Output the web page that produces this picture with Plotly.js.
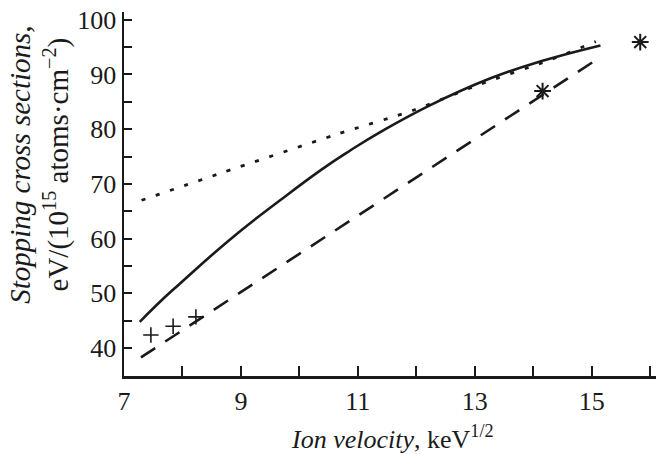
<!DOCTYPE html>
<html>
<head>
<meta charset="utf-8">
<script src="https://cdn.plot.ly/plotly-3.0.1.min.js"></script>
<style>html,body{margin:0;padding:0;background:#fff;}#chart{width:658px;height:454px;}</style>
</head>
<body>
<div id="chart"></div>
<script>
// Solid curve
const solidX = [7.27, 7.67, 7.96, 8.82, 9.67, 10.39, 10.87, 11.39, 12.24, 13.27, 14.13, 15.15];
const solidY = [44.8, 49.0, 51.8, 59.9, 67.0, 72.7, 76.1, 79.5, 84.4, 89.3, 92.4, 95.3];
// Dotted curve
const dotX = [7.30, 8.64, 10.64, 11.96, 13.04, 14.30, 15.07];
const dotY = [67.0, 71.9, 79.05, 83.5, 88.0, 92.7, 96.0];
// Dashed line
const dashX = [7.29, 15.155];
const dashY = [38.3, 93.2];
// Plus markers
const plusX = [7.46, 7.84, 8.23];
const plusY = [42.4, 44.0, 45.7];
// Star markers
const starX = [14.16, 15.83];
const starY = [86.95, 95.9];

const ink = '#1a1a1a';
const font = '"Liberation Serif"';

const traces = [
  {x: dotX, y: dotY, mode: 'lines', line: {color: ink, width: 2.8, dash: '4px,11px', shape: 'spline', smoothing: 0.8}, hoverinfo: 'skip'},
  {x: dashX, y: dashY, mode: 'lines', line: {color: ink, width: 2.6, dash: '17px,12px'}, hoverinfo: 'skip'},
  {x: solidX, y: solidY, mode: 'lines', line: {color: ink, width: 2.6, shape: 'spline', smoothing: 1.3}, hoverinfo: 'skip'},
  {x: plusX, y: plusY, mode: 'markers', marker: {symbol: 'cross-thin-open', size: 11, color: ink, line: {color: ink, width: 1.6}}, hoverinfo: 'skip'},
  {x: starX, y: starY, mode: 'markers', marker: {symbol: 'asterisk-open', size: 14, color: ink, line: {color: ink, width: 2}}, hoverinfo: 'skip'}
];

const layout = {
  width: 658, height: 454,
  margin: {l: 124, r: 2, t: 12, b: 78},
  paper_bgcolor: '#fff', plot_bgcolor: '#fff',
  showlegend: false,
  font: {family: font, color: ink, size: 26},
  xaxis: {
    range: [7, 16.1], tick0: 7, dtick: 2,
    ticks: 'inside', ticklen: 10, tickwidth: 2, tickcolor: ink,
    minor: {dtick: 1, ticks: 'inside', ticklen: 10, tickwidth: 2, tickcolor: ink, showgrid: false},
    showline: true, linewidth: 2.5, linecolor: ink,
    showgrid: false, zeroline: false,
    tickfont: {family: font, size: 26, color: ink}
  },
  yaxis: {
    range: [34.9, 101.4], tick0: 0, dtick: 10,
    ticks: 'inside', ticklen: 8, tickwidth: 2, tickcolor: ink,
    minor: {dtick: 5, ticks: 'inside', ticklen: 8, tickwidth: 2, tickcolor: ink, showgrid: false},
    showline: true, linewidth: 2.5, linecolor: ink,
    showgrid: false, zeroline: false,
    tickfont: {family: font, size: 26, color: ink}
  },
  annotations: [
    {xref: 'paper', yref: 'paper', x: -0.158, y: 0.58, xanchor: 'center', yanchor: 'middle',
     textangle: -90, showarrow: false, align: 'center',
     font: {family: font, size: 29, color: ink},
     text: '<i>Stopping cross sections,</i><br>eV/(10<sup>15</sup> atoms·cm<sup>−2</sup>)'},
    {xref: 'paper', yref: 'paper', x: 0.504, y: -0.17, xanchor: 'center', yanchor: 'middle',
     showarrow: false,
     font: {family: font, size: 26, color: ink},
     text: '<i>Ion velocity</i>, keV<sup>1/2</sup>'}
  ]
};

Plotly.newPlot('chart', traces, layout, {staticPlot: true, displayModeBar: false});
</script>
</body>
</html>
